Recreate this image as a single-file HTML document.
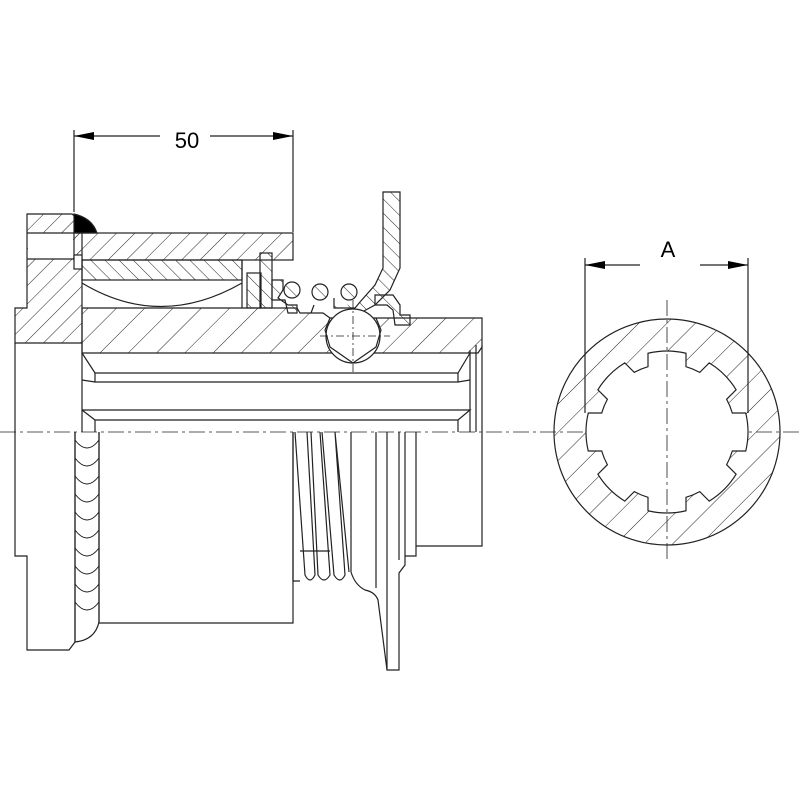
<!DOCTYPE html>
<html><head><meta charset="utf-8"><style>html,body{margin:0;padding:0;background:#fff}svg{display:block}</style></head>
<body>
<svg width="800" height="800" viewBox="0 0 800 800" xmlns="http://www.w3.org/2000/svg">
<defs>
<pattern id="h1" width="13" height="13" patternUnits="userSpaceOnUse" patternTransform="rotate(45)"><line x1="0" y1="0" x2="0" y2="13" stroke="#222" stroke-width="1"/></pattern>
<pattern id="h2" width="10" height="10" patternUnits="userSpaceOnUse" patternTransform="rotate(-45)"><line x1="0" y1="0" x2="0" y2="10" stroke="#222" stroke-width="1"/></pattern>
<pattern id="h3" width="20" height="20" patternUnits="userSpaceOnUse" patternTransform="rotate(45)"><line x1="0" y1="0" x2="0" y2="20" stroke="#222" stroke-width="1"/></pattern>
<marker id="ar" markerWidth="20" markerHeight="8" refX="20" refY="4" orient="auto" markerUnits="userSpaceOnUse"><path d="M0,0 L20,4 L0,8 z" fill="#000"/></marker>
</defs>
<g fill="none" stroke="#222" stroke-width="1.2">
<!-- dimension 50 -->
<line x1="74" y1="130" x2="74" y2="212"/>
<line x1="293" y1="130" x2="293" y2="232"/>
<line x1="160" y1="136" x2="74" y2="136" marker-end="url(#ar)"/>
<line x1="210" y1="136" x2="293" y2="136" marker-end="url(#ar)"/>
<!-- flange -->
<path d="M27,214 L72,214 L82,222 L82,343 L15,343 L15,308 L27,308 Z" fill="url(#h1)"/>
<path d="M82,343 L82,432 M15,343 L15,556 L27,556 L27,650 L69,650 L75,642 L75,432"/>
<rect x="28" y="233" width="45" height="26" fill="#fff" stroke="none"/>
<line x1="27" y1="233" x2="74" y2="233"/><line x1="27" y1="259" x2="74" y2="259"/>
<path d="M74,214 Q92,218 97,233 L74,233 Z" fill="#000"/>
<!-- outer sleeve -->
<rect x="74" y="233" width="219" height="27" fill="url(#h1)"/>
<rect x="74" y="255" width="8" height="14" fill="#fff"/>
<!-- inner ring -->
<rect x="82" y="260" width="160" height="20" fill="url(#h2)"/>
<path d="M82,283 Q160,330 242,283"/>
<line x1="242" y1="260" x2="242" y2="308"/>
<rect x="247" y="273" width="14" height="35" fill="url(#h2)"/>
<rect x="260" y="253" width="12" height="55" fill="url(#h2)"/>
<path d="M272,280 L283,280 L283,290 L278,298 L288,305 L297,305 L297,313 L288,313 L285,300 L272,300 Z" fill="url(#h2)"/>
<circle cx="292" cy="290" r="8" fill="url(#h2)"/>
<path d="M311,313 L314,305" /><circle cx="320" cy="292" r="8" fill="url(#h2)"/>
<circle cx="349" cy="292" r="8" fill="url(#h2)"/>
<path d="M334,298 L334,308 L355,308 L360,302 L375,285 L383,268 L383,192 L400,192 L400,268 L390,290 L375,305 L362,312" fill="url(#h2)"/>
<path d="M375,295 L393,295 L400,305 L400,315 L410,315 L410,325 L395,325 L393,310 L387,305 L375,305 Z" fill="url(#h2)"/>
<!-- shaft -->
<path d="M82,308 L297,308 L300,313 L323,313 L330,318 L482,318 L482,347 L478,353 L82,353 Z" fill="url(#h3)"/>
<circle cx="353" cy="336" r="27" fill="#fff"/>
<path d="M330,318 L325,330 L330,347 L353,363 L376,347 L381,330 L376,318"/>
<line x1="320" y1="336" x2="390" y2="336" stroke-dasharray="8,3,2,3" stroke-width="0.8"/>
<line x1="353" y1="300" x2="353" y2="375" stroke-dasharray="8,3,2,3" stroke-width="0.8"/>
<!-- bore -->
<path d="M82,353 L95,373 L458,373 L470,353"/>
<path d="M82,380 L95,382 L458,382 L470,380"/>
<line x1="95" y1="373" x2="95" y2="382"/><line x1="458" y1="373" x2="458" y2="382"/>
<path d="M82,410 L95,420 L458,420 L470,410 L82,410"/>
<line x1="95" y1="420" x2="95" y2="432"/><line x1="458" y1="420" x2="458" y2="432"/>
<path d="M470,350 L470,432 M476,345 L476,432 M482,345 L482,432"/>
<!-- weld beads -->
<path d="M75,432 L75,642 Q95,640 99,622 L99,432"/>
<g stroke-width="0.9">
<path d="M75,440 Q87,456 99,440 M75,458 Q87,474 99,458 M75,476 Q87,492 99,476 M75,494 Q87,510 99,494 M75,512 Q87,528 99,512 M75,530 Q87,546 99,530 M75,548 Q87,564 99,548 M75,566 Q87,582 99,566 M75,584 Q87,600 99,584 M75,602 Q87,618 99,602"/>
</g>
<!-- lower body -->
<path d="M99,432 L99,623 L293,623 L293,432"/>
<path d="M293,432 L293,581 L300,581 M295,432 L305,575 Q310,585 315,575 L307,432 M311,432 L318,575 Q324,585 330,575 L320,432 M322,432 L334,575 Q340,585 345,575 L335,432 M335,432 L349,572"/>
<path d="M300,551 L330,551"/>
<path d="M351,432 L351,572 Q355,585 365,590 Q375,592 378,600 L387,670 L399,670 L399,573 L405,565 L405,432"/>
<line x1="376" y1="432" x2="376" y2="588"/><line x1="387" y1="432" x2="387" y2="670"/>
<path d="M399,432 L399,560 M405,556 L416,556 L416,432 M416,546 L482,546 L482,432"/>
<!-- centerline -->
<line x1="0" y1="432" x2="800" y2="432" stroke-dasharray="16,4,3,4" stroke-width="0.8"/>
<!-- right view -->
<circle cx="667" cy="432" r="113" fill="url(#h3)"/>
<path fill="#fff" stroke="#222" d="M732.29,451 L745.74,451 A81,81 0 0 0 745.74,413 L732.29,413 A68,68 0 0 0 726.61,399.27 L736.12,389.76 A81,81 0 0 0 709.24,362.88 L699.73,372.39 A68,68 0 0 0 686,366.71 L686,353.26 A81,81 0 0 0 648,353.26 L648,366.71 A68,68 0 0 0 634.27,372.39 L624.76,362.88 A81,81 0 0 0 597.88,389.76 L607.39,399.27 A68,68 0 0 0 601.71,413 L588.26,413 A81,81 0 0 0 588.26,451 L601.71,451 A68,68 0 0 0 607.39,464.73 L597.88,474.24 A81,81 0 0 0 624.76,501.12 L634.27,491.61 A68,68 0 0 0 648,497.29 L648,510.74 A81,81 0 0 0 686,510.74 L686,497.29 A68,68 0 0 0 699.73,491.61 L709.24,501.12 A81,81 0 0 0 736.12,474.24 L726.61,464.73 A68,68 0 0 0 732.29,451 Z"/>
<line x1="667" y1="300" x2="667" y2="560" stroke-dasharray="16,4,3,4" stroke-width="0.8"/>
<line x1="585" y1="258" x2="585" y2="413"/><line x1="748" y1="258" x2="748" y2="413"/>
<line x1="640" y1="265" x2="585" y2="265" marker-end="url(#ar)"/>
<line x1="700" y1="265" x2="748" y2="265" marker-end="url(#ar)"/>
</g>
<text x="187" y="148" font-family="Liberation Sans, sans-serif" font-size="22" text-anchor="middle">50</text>
<text x="668" y="257" font-family="Liberation Sans, sans-serif" font-size="22" text-anchor="middle">A</text>
</svg>
</body></html>
